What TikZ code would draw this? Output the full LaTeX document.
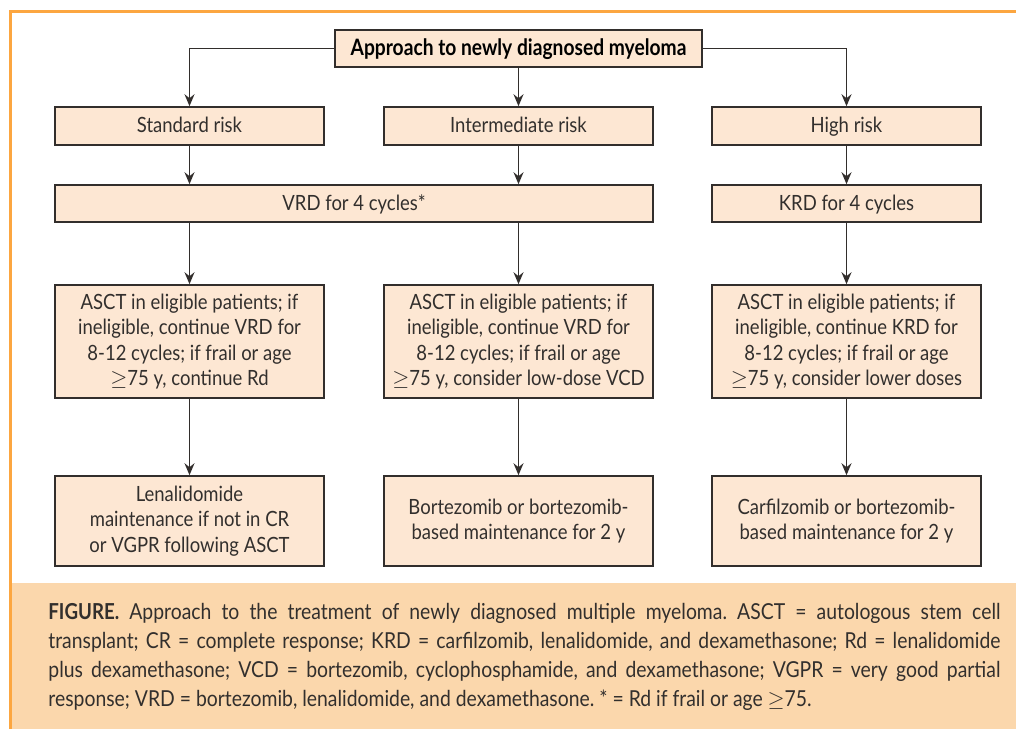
\documentclass[tikz,border=0pt]{standalone}
\usepackage{fontspec}
\setmainfont[FakeStretch=0.88]{Lato}
\newfontfamily\headfont[FakeStretch=0.85]{Lato}
\usetikzlibrary{arrows, arrows.meta, positioning}
\definecolor{frameorange}{RGB}{252,166,64}
\definecolor{capfill}{RGB}{251,215,172}
\definecolor{boxfill}{RGB}{253,231,211}
\definecolor{boxline}{RGB}{50,46,44}
\definecolor{textgray}{RGB}{50,47,45}
\tikzstyle{block} = [rectangle, draw=boxline, fill=boxfill, text=textgray, align=center, inner sep=0pt, line width=0.8pt, minimum width=134.5pt, font=\fontsize{10.5}{12.8}\selectfont]
\tikzstyle{oneline} = [text height=8.4pt, text depth=1.6pt]
\tikzstyle{line} = [draw=boxline, line width=0.8pt, -{Stealth[length=6pt, width=5pt, inset=2pt]}]

\begin{document}
\begin{tikzpicture}[x=0.5pt,y=-0.5pt]
\useasboundingbox (0,0) rectangle (1016,729);
\fill[capfill] (12,583) rectangle (1016,729);
\draw[frameorange, line width=1.5pt] (10,729) -- (10,11) -- (1016,11);

\node[block, oneline, minimum width=183.5pt, minimum height=18.5pt, text=black,
  font=\headfont\bfseries\fontsize{11.3}{13}\selectfont] (top) at (518.5,48.5) {Approach to newly diagnosed myeloma};

\node[block, oneline, minimum height=19pt] (std) at (189.5,126) {Standard risk};
\node[block, oneline, minimum height=19pt] (mid) at (518.5,126) {Intermediate risk};
\node[block, oneline, minimum height=19pt] (high) at (846.5,126) {High risk};

\node[block, oneline, minimum width=299pt, minimum height=18.5pt] (vrd) at (354,203.5) {VRD for 4 cycles*};
\node[block, oneline, minimum height=18.5pt] (krd) at (846.5,203.5) {KRD for 4 cycles};

\node[block, minimum height=56.5pt] (asctl) at (189.5,341.5) {ASCT in eligible patients; if\\ineligible, continue VRD for\\8-12 cycles; if frail or age\\$\geq$75 y, continue Rd};
\node[block, minimum height=56.5pt] (asctm) at (518.5,341.5) {ASCT in eligible patients; if\\ineligible, continue VRD for\\8-12 cycles; if frail or age\\$\geq$75 y, consider low-dose VCD};
\node[block, minimum height=56.5pt] (asctr) at (846.5,341.5) {ASCT in eligible patients; if\\ineligible, continue KRD for\\8-12 cycles; if frail or age\\$\geq$75 y, consider lower doses};

\node[block, minimum height=45pt] (maintl) at (189.5,521) {Lenalidomide\\maintenance if not in CR\\or VGPR following ASCT};
\node[block, minimum height=45pt] (maintm) at (518.5,521) {Bortezomib or bortezomib-\\based maintenance for 2 y};
\node[block, minimum height=45pt] (maintr) at (846.5,521) {Carfilzomib or bortezomib-\\based maintenance for 2 y};

\path[line] (top.west) -| (std.north);
\path[line] (top.south) -- (mid.north);
\path[line] (top.east) -| (high.north);
\path[line] (std.south) -- (std.south |- vrd.north);
\path[line] (mid.south) -- (mid.south |- vrd.north);
\path[line] (high.south) -- (krd.north);
\path[line] (vrd.south -| asctl.north) -- (asctl.north);
\path[line] (vrd.south -| asctm.north) -- (asctm.north);
\path[line] (krd.south) -- (asctr.north);
\path[line] (asctl.south) -- (maintl.north);
\path[line] (asctm.south) -- (maintm.north);
\path[line] (asctr.south) -- (maintr.north);

\node[anchor=north west, text width=476pt, align=justify, inner sep=0pt, text=textgray,
  font=\fontsize{11}{14.5}\selectfont\frenchspacing] (caption) at (48,603)
  {{\headfont\bfseries FIGURE.} Approach to the treatment of newly diagnosed multiple myeloma. ASCT = autologous stem cell\linebreak
  transplant; CR = complete response; KRD = carfilzomib, lenalidomide, and dexamethasone; Rd = lenalidomide\linebreak
  plus dexamethasone; VCD = bortezomib, cyclophosphamide, and dexamethasone; VGPR = very good partial\linebreak
  response; VRD = bortezomib, lenalidomide, and dexamethasone. * = Rd if frail or age $\geq$75.};
\end{tikzpicture}
\end{document}
